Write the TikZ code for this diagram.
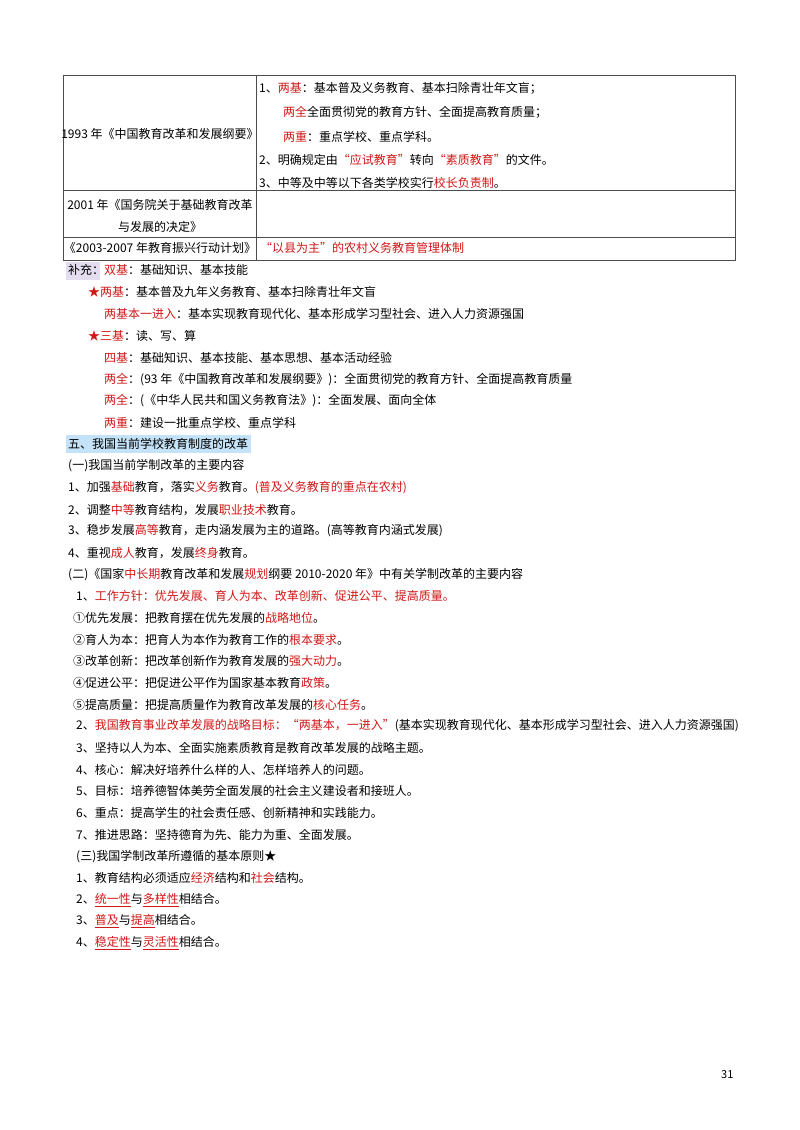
\documentclass[tikz,border=0pt]{standalone}
\usepackage{fontspec}
\setmainfont{Noto Sans CJK SC}
\definecolor{rd}{HTML}{D01818}
\definecolor{hlb}{HTML}{C5E3F8}
\definecolor{hlp}{HTML}{E4DDF0}
\newcommand{\R}[1]{\textcolor{rd}{#1}}
\newcommand{\RU}[1]{\textcolor{rd}{\underline{#1}}}
\newcommand{\Ln}[4]{\node[txt] (#1) at (#2,#3) {#4};}
\begin{document}
\begin{tikzpicture}[x=1pt,y=-1pt,
  txt/.style={anchor=west,inner sep=0pt,font=\fontsize{12}{14}\selectfont},
  tline/.style={draw=black!70,line width=0.6pt}]
\useasboundingbox[fill=white] (0,0) rectangle (800,1130);
% table
\draw[tline] (63,75) rectangle (735,260);
\draw[tline] (256,75) -- (256,260);
\draw[tline] (63,190) -- (735,190);
\draw[tline] (63,237) -- (735,237);
\node[txt,anchor=center] (c1) at (160,134) {1993 年《中国教育改革和发展纲要》};
\Ln{a1}{259}{88}{1、\R{两基}：基本普及义务教育、基本扫除青壮年文盲；}
\Ln{a2}{283}{112}{\R{两全}全面贯彻党的教育方针、全面提高教育质量；}
\Ln{a3}{283}{137}{\R{两重}：重点学校、重点学科。}
\Ln{a4}{259}{160}{2、明确规定由\R{“应试教育”}转向\R{“素质教育”}的文件。}
\Ln{a5}{259}{183}{3、中等及中等以下各类学校实行\R{校长负责制}。}
\node[txt,anchor=center] (c2) at (160,205) {2001 年《国务院关于基础教育改革};
\node[txt,anchor=center] (c3) at (160,227) {与发展的决定》};
\node[txt,anchor=center] (c4) at (160,248) {《2003-2007 年教育振兴行动计划》};
\Ln{a6}{260}{248}{\R{“以县为主”的农村义务教育管理体制}}
% supplement
\fill[hlp] (66,262) rectangle (100,280);
\Ln{b1}{68}{270}{补充：\R{双基}：基础知识、基本技能}
\Ln{b2}{88}{292}{\R{★两基}：基本普及九年义务教育、基本扫除青壮年文盲}
\Ln{b3}{104}{314}{\R{两基本一进入}：基本实现教育现代化、基本形成学习型社会、进入人力资源强国}
\Ln{b4}{88}{336}{\R{★三基}：读、写、算}
\Ln{b5}{104}{358}{\R{四基}：基础知识、基本技能、基本思想、基本活动经验}
\Ln{b6}{104}{380}{\R{两全}：(93 年《中国教育改革和发展纲要》)：全面贯彻党的教育方针、全面提高教育质量}
\Ln{b7}{104}{401}{\R{两全}：(《中华人民共和国义务教育法》)：全面发展、面向全体}
\Ln{b8}{104}{423}{\R{两重}：建设一批重点学校、重点学科}
\fill[hlb] (66,435) rectangle (251,453);
\Ln{h5}{68}{444}{五、我国当前学校教育制度的改革}
\Ln{d0}{68}{466}{(一)我国当前学制改革的主要内容}
\Ln{d1}{68}{488}{1、加强\R{基础}教育，落实\R{义务}教育。\R{(普及义务教育的重点在农村)}}
\Ln{d2}{68}{510}{2、调整\R{中等}教育结构，发展\R{职业技术}教育。}
\Ln{d3}{68}{531}{3、稳步发展\R{高等}教育，走内涵发展为主的道路。(高等教育内涵式发展)}
\Ln{d4}{68}{553}{4、重视\R{成人}教育，发展\R{终身}教育。}
\Ln{e0}{68}{575}{(二)《国家\R{中长期}教育改革和发展\R{规划}纲要 2010-2020 年》中有关学制改革的主要内容}
\Ln{e1}{76}{596}{1、\R{工作方针：优先发展、育人为本、改革创新、促进公平、提高质量。}}
\Ln{e2}{73}{618}{①优先发展：把教育摆在优先发展的\R{战略地位}。}
\Ln{e3}{73}{640}{②育人为本：把育人为本作为教育工作的\R{根本要求}。}
\Ln{e4}{73}{661}{③改革创新：把改革创新作为教育发展的\R{强大动力}。}
\Ln{e5}{73}{683}{④促进公平：把促进公平作为国家基本教育\R{政策}。}
\Ln{e6}{73}{705}{⑤提高质量：把提高质量作为教育改革发展的\R{核心任务}。}
\Ln{e7}{76}{726}{2、\R{我国教育事业改革发展的战略目标：“两基本，一进入”}(基本实现教育现代化、基本形成学习型社会、进入人力资源强国)}
\Ln{e8}{76}{748}{3、坚持以人为本、全面实施素质教育是教育改革发展的战略主题。}
\Ln{e9}{76}{770}{4、核心：解决好培养什么样的人、怎样培养人的问题。}
\Ln{e10}{76}{791}{5、目标：培养德智体美劳全面发展的社会主义建设者和接班人。}
\Ln{e11}{76}{813}{6、重点：提高学生的社会责任感、创新精神和实践能力。}
\Ln{e12}{76}{835}{7、推进思路：坚持德育为先、能力为重、全面发展。}
\Ln{f0}{76}{857}{(三)我国学制改革所遵循的基本原则★}
\Ln{f1}{76}{878}{1、教育结构必须适应\R{经济}结构和\R{社会}结构。}
\Ln{f2}{76}{900}{2、\RU{统一性}与\RU{多样性}相结合。}
\Ln{f3}{76}{921}{3、\RU{普及}与\RU{提高}相结合。}
\Ln{f4}{76}{943}{4、\RU{稳定性}与\RU{灵活性}相结合。}
\node[txt,font=\fontsize{11}{13}\selectfont] (pg) at (721,1075) {31};
\end{tikzpicture}
\end{document}
